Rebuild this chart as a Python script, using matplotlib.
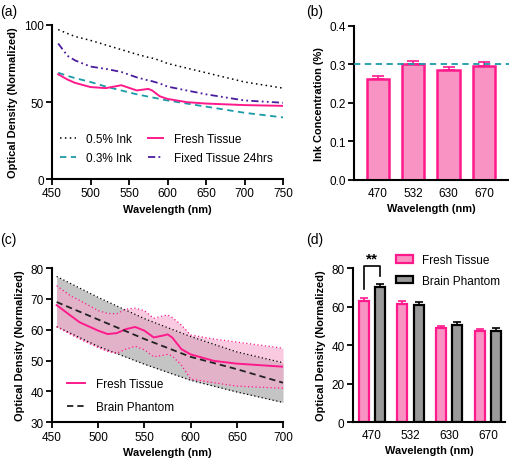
import matplotlib
matplotlib.use("Agg")
import matplotlib.pyplot as plt
import numpy as np

plt.rcParams['font.family'] = ['Liberation Sans', 'DejaVu Sans']
plt.rcParams['font.size'] = 8.5

# ---------------- Data ----------------
# Panel (a)
wl_a = [458, 470, 480, 500, 520, 540, 560, 575, 580, 590, 600, 625, 650, 700, 750]
ink05 = [97, 94.5, 92.5, 90, 87, 84, 81, 79, 78.5, 77, 75, 72, 69, 63, 59]
ink03 = [69, 67, 65.5, 63, 60, 57.5, 55, 53.5, 53, 52, 51, 49, 47, 43, 40]
fresh_a = [68, 64.6, 62.4, 59.7, 59, 60.9, 57.5, 58.5, 57.5, 53.7, 52, 49.9, 49, 48, 47.5]
fixed_a = [88, 80, 77, 73, 71.5, 69.5, 66, 64, 63.5, 62, 60, 57.5, 55, 51, 49.5]

# Panel (b)
b_cats = ['470', '532', '630', '670']
b_vals = [0.262, 0.300, 0.285, 0.295]
b_errs = [0.007, 0.008, 0.008, 0.010]
b_ref = 0.3

# Panel (c)
wl_c = [455, 470, 480, 500, 510, 520, 530, 540, 550, 560, 570, 575, 580, 590, 600, 625, 650, 700]
fresh_c = [68, 64.6, 62.4, 59.7, 58.6, 58.9, 60.2, 60.9, 59.7, 57.5, 58.1, 58.5, 57.5, 53.7, 52, 49.9, 49, 48]
fresh_up = [74.3, 71, 69.5, 66.2, 65.3, 65.2, 66.7, 67, 66.2, 63.7, 64.5, 64.8, 64, 61.5, 58.3, 57, 56, 54]
fresh_lo = [61, 58.5, 57, 54.2, 53, 52.4, 53.7, 54.6, 53.5, 51.2, 51.7, 52, 51.5, 48.5, 44, 42.8, 41.7, 41]
wl_p = [455, 500, 550, 600, 650, 700]
phantom = [69, 63.3, 57, 51.2, 47.2, 42.8]
phantom_up = [77.3, 70.5, 63.6, 57.8, 52.8, 49.3]
phantom_lo = [61, 54.6, 48.8, 43.6, 39.8, 36.4]

# Panel (d)
d_cats = ['470', '532', '630', '670']
d_fresh = [63, 61.5, 49, 47.5]
d_fresh_err = [1.5, 1.6, 1.0, 0.8]
d_phan = [70, 61, 50.5, 47.5]
d_phan_err = [1.6, 1.6, 1.5, 1.3]

PINK = '#FF1A8C'
PINK_FILL = '#F993C4'
TEAL = '#1A9BA8'
PURPLE = '#4B1C9C'
GREY = '#9A9A9A'

LBL = 7.9
TCK = 8.5

fig = plt.figure(figsize=(5.10, 4.64), dpi=100)

def style(ax):
    for s in ['top', 'right']:
        ax.spines[s].set_visible(False)
    for s in ['left', 'bottom']:
        ax.spines[s].set_linewidth(1.5)
    ax.tick_params(width=1.3, length=4, labelsize=TCK, pad=2)

# ---------------- (a) ----------------
axa = fig.add_axes([0.102, 0.612, 0.453, 0.332])
l1, = axa.plot(wl_a, ink05, ls=(0, (1, 2.2)), color='black', lw=1.1, label='0.5% Ink')
l2, = axa.plot(wl_a, ink03, ls=(0, (3.5, 2.5)), color=TEAL, lw=1.3, label='0.3% Ink')
l3, = axa.plot(wl_a, fresh_a, ls='-', color=PINK, lw=1.4, label='Fresh Tissue')
l4, = axa.plot(wl_a, fixed_a, ls=(0, (4, 1.8, 1, 1.8, 1, 1.8)), color=PURPLE, lw=1.3, label='Fixed Tissue 24hrs')
axa.set_xlim(450, 750)
axa.set_ylim(0, 100)
axa.set_xticks([450, 500, 550, 600, 650, 700, 750])
axa.set_yticks([0, 50, 100])
axa.set_xlabel('Wavelength (nm)', fontweight='bold', fontsize=LBL, labelpad=3)
axa.set_ylabel('Optical Density (Normalized)', fontweight='bold', fontsize=LBL, labelpad=4)
axa.legend(handles=[l1, l2, l3, l4], ncol=2, frameon=False, loc='lower left',
           bbox_to_anchor=(-0.01, 0.03), fontsize=TCK, handlelength=1.3,
           columnspacing=1.3, handletextpad=0.9, labelspacing=0.6)
style(axa)
fig.text(0.0, 0.975, '(a)', fontsize=10, va='center')

# ---------------- (b) ----------------
axb = fig.add_axes([0.694, 0.610, 0.304, 0.332])
xb = np.arange(len(b_cats))
axb.bar(xb, b_vals, width=0.63, color=PINK_FILL, edgecolor=PINK, linewidth=1.8, zorder=2)
axb.errorbar(xb, b_vals, yerr=[[0]*4, b_errs], fmt='none', ecolor=PINK, elinewidth=1.2,
             capsize=4, capthick=1.2, zorder=3)
axb.axhline(b_ref, color=TEAL, ls=(0, (3.5, 2.5)), lw=1.3, zorder=4)
axb.set_xlim(-0.68, 3.71)
axb.set_ylim(0, 0.4)
axb.set_xticks(xb)
axb.set_xticklabels(b_cats)
axb.set_yticks([0.0, 0.1, 0.2, 0.3, 0.4])
axb.set_yticklabels(['0.0', '0.1', '0.2', '0.3', '0.4'])
axb.set_xlabel('Wavelength (nm)', fontweight='bold', fontsize=LBL, labelpad=3)
axb.set_ylabel('Ink Concentration (%)', fontweight='bold', fontsize=LBL, labelpad=4)
style(axb)
axb.tick_params(axis='x', length=0, pad=5)
fig.text(0.600, 0.975, '(b)', fontsize=10, va='center')

# ---------------- (c) ----------------
axc = fig.add_axes([0.102, 0.088, 0.453, 0.332])
axc.fill_between(wl_p, phantom_lo, phantom_up, color='#C4C4C4', lw=0, zorder=1)
axc.plot(wl_p, phantom_up, ls=(0, (1, 2)), color='black', lw=0.9, zorder=3)
axc.plot(wl_p, phantom_lo, ls=(0, (1, 2)), color='black', lw=0.9, zorder=3)
axc.fill_between(wl_c, fresh_lo, fresh_up, color='#F7A8CC', alpha=0.6, lw=0, zorder=2)
axc.plot(wl_c, fresh_up, ls=(0, (1, 2)), color=PINK, lw=0.9, zorder=3)
axc.plot(wl_c, fresh_lo, ls=(0, (1, 2)), color=PINK, lw=0.9, zorder=3)
lc1, = axc.plot(wl_c, fresh_c, color=PINK, lw=1.4, zorder=4, label='Fresh Tissue')
lc2, = axc.plot(wl_p, phantom, color='#222222', ls=(0, (3.5, 2.2)), lw=1.3, zorder=4, label='Brain Phantom')
axc.set_xlim(450, 700)
axc.set_ylim(30, 80)
axc.set_xticks([450, 500, 550, 600, 650, 700])
axc.set_yticks([30, 40, 50, 60, 70, 80])
axc.set_xlabel('Wavelength (nm)', fontweight='bold', fontsize=LBL, labelpad=3)
axc.set_ylabel('Optical Density (Normalized)', fontweight='bold', fontsize=LBL, labelpad=4)
axc.legend(handles=[lc1, lc2], frameon=False, loc='lower left', bbox_to_anchor=(0.02, -0.01),
           fontsize=TCK, handlelength=1.5, handletextpad=0.9, labelspacing=0.95)
style(axc)
fig.text(0.0, 0.483, '(c)', fontsize=10, va='center')

# ---------------- (d) ----------------
axd = fig.add_axes([0.692, 0.088, 0.298, 0.332])
xd = np.arange(len(d_cats))
w = 0.26
off = 0.21
axd.bar(xd - off, d_fresh, width=w, color=PINK_FILL, edgecolor=PINK, linewidth=1.6, zorder=2, label='Fresh Tissue')
axd.bar(xd + off, d_phan, width=w, color=GREY, edgecolor='black', linewidth=1.6, zorder=2, label='Brain Phantom')
axd.errorbar(xd - off, d_fresh, yerr=[[0]*4, d_fresh_err], fmt='none', ecolor=PINK, elinewidth=1.2,
             capsize=3, capthick=1.2, zorder=3)
axd.errorbar(xd + off, d_phan, yerr=[[0]*4, d_phan_err], fmt='none', ecolor='black', elinewidth=1.2,
             capsize=3, capthick=1.2, zorder=3)
# significance bracket
axd.plot([xd[0] - off, xd[0] - off, xd[0] + off, xd[0] + off], [69, 81, 81, 76], color='black', lw=1.2,
         clip_on=False)
axd.text(xd[0], 85, '**', ha='center', va='center', fontsize=11, fontweight='bold')
axd.set_xlim(-0.49, 3.44)
axd.set_ylim(0, 80)
axd.set_xticks(xd)
axd.set_xticklabels(d_cats)
axd.set_yticks([0, 20, 40, 60, 80])
axd.set_xlabel('Wavelength (nm)', fontweight='bold', fontsize=LBL, labelpad=3)
axd.set_ylabel('Optical Density (Normalized)', fontweight='bold', fontsize=LBL, labelpad=4)
style(axd)
axd.tick_params(axis='x', length=0, pad=5)
axd.legend(frameon=False, loc='upper left', bbox_to_anchor=(0.25, 1.12), fontsize=TCK,
           handlelength=1.45, handleheight=0.65, handletextpad=0.75, labelspacing=0.7,
           borderaxespad=0)
fig.text(0.600, 0.483, '(d)', fontsize=10, va='center')

fig.savefig('out.png', dpi=100)
